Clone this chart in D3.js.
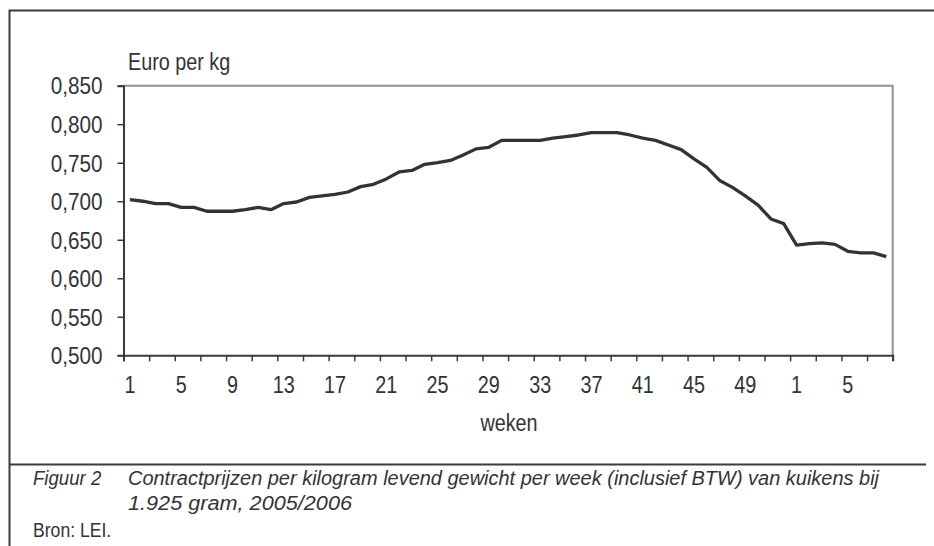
<!DOCTYPE html>
<html>
<head>
<meta charset="utf-8">
<script src="https://cdn.jsdelivr.net/npm/d3@7"></script>
<style>
  html, body { margin: 0; padding: 0; background: #fff; }
  svg text { font-family: "Liberation Sans", Arial, sans-serif; fill: #333; }
</style>
</head>
<body>
<svg id="chart" width="934" height="546"></svg>
<script>
// weken: 2005 week 1 t/m 52, daarna 2006 week 1 t/m 8
const weekLabels = [
  1, 2, 3, 4, 5, 6, 7, 8, 9, 10, 11, 12, 13, 14, 15, 16, 17, 18, 19, 20,
  21, 22, 23, 24, 25, 26, 27, 28, 29, 30, 31, 32, 33, 34, 35, 36, 37, 38, 39, 40,
  41, 42, 43, 44, 45, 46, 47, 48, 49, 50, 51, 52, 1, 2, 3, 4, 5, 6, 7, 8
];

// contractprijs in euro per kg levend gewicht
const prices = [
  0.702, 0.700, 0.697, 0.697, 0.692, 0.692, 0.687, 0.687, 0.687, 0.689,
  0.692, 0.689, 0.697, 0.699, 0.705, 0.707, 0.709, 0.712, 0.719, 0.722,
  0.729, 0.738, 0.740, 0.748, 0.750, 0.753, 0.760, 0.768, 0.770, 0.779,
  0.779, 0.779, 0.779, 0.782, 0.784, 0.786, 0.789, 0.789, 0.789, 0.786,
  0.782, 0.779, 0.773, 0.767, 0.755, 0.744, 0.727, 0.718, 0.707, 0.695,
  0.677, 0.671, 0.643, 0.645, 0.646, 0.644, 0.635, 0.633, 0.633, 0.628
];

const yTicks = [0.50, 0.55, 0.60, 0.65, 0.70, 0.75, 0.80, 0.85];

const svg = d3.select("#chart");

const plot = { left: 123.5, top: 85.7, right: 892.7, bottom: 355.3 };

// het origineel gebruikt een smalle letter: tekst horizontaal inkrimpen
function condense(sel, factor) {
  sel.each(function () {
    const w = this.getComputedTextLength();
    d3.select(this)
      .attr("textLength", w * factor)
      .attr("lengthAdjust", "spacingAndGlyphs");
  });
}

// decimale komma
const nl = d3.formatLocale({ decimal: ",", thousands: ".", grouping: [3], currency: ["€", ""] });
const fmt = nl.format(".3f");

const idx = d3.range(prices.length);

const x = d3.scaleBand()
  .domain(idx)
  .range([plot.left, plot.right])
  .padding(0);

// lineaire schaal voor de streepjes op de categoriegrenzen
const xEdge = d3.scaleLinear()
  .domain([0, prices.length])
  .range([plot.left, plot.right]);

const y = d3.scaleLinear()
  .domain([0.5, 0.85])
  .range([plot.bottom, plot.top]);

// buitenkader
svg.append("path")
  .attr("d", "M9.5,546 V10.5 H934")
  .attr("fill", "none")
  .attr("stroke", "#3c3c3c")
  .attr("stroke-width", 2);

// plotkader (boven en rechts)
svg.append("path")
  .attr("d", `M${plot.left},${plot.top} H${plot.right} V${plot.bottom}`)
  .attr("fill", "none")
  .attr("stroke", "#988e8a")
  .attr("stroke-width", 2);

// y-as
const yAxis = svg.append("g")
  .attr("transform", `translate(${plot.left},0)`)
  .call(d3.axisLeft(y).tickValues(yTicks).tickFormat(fmt).tickSize(6).tickPadding(15));

yAxis.selectAll("text")
  .style("font-size", "23px")
  .attr("dy", "0.36em")
  .call(condense, 0.9);

// x-as: streepjes om de 2 weken
const xTickAxis = svg.append("g")
  .attr("transform", `translate(0,${plot.bottom})`)
  .call(d3.axisBottom(xEdge).tickValues(d3.range(0, prices.length + 1, 2)).tickFormat("").tickSize(6));

// x-as: labels om de 4 weken, midden in de categorie
const xLabelAxis = svg.append("g")
  .attr("transform", `translate(0,${plot.bottom})`)
  .call(d3.axisBottom(x)
    .tickValues(idx.filter(i => i % 4 === 0))
    .tickFormat(i => weekLabels[i])
    .tickSize(0)
    .tickPadding(21.5));

xLabelAxis.selectAll("text")
  .style("font-size", "23px")
  .call(condense, 0.86);
xLabelAxis.select(".domain").remove();

[yAxis, xTickAxis].forEach(g => {
  g.select(".domain").attr("stroke", "#3a3a3a").attr("stroke-width", 2);
  g.selectAll(".tick line").attr("stroke", "#3a3a3a").attr("stroke-width", 1.5);
});

// prijslijn
const line = d3.line()
  .x((d, i) => x(i) + x.bandwidth() / 2)
  .y(d => y(d));

svg.append("path")
  .datum(prices)
  .attr("fill", "none")
  .attr("stroke", "#333336")
  .attr("stroke-width", 3.3)
  .attr("stroke-linejoin", "round")
  .attr("d", line);

// astitels
svg.append("text")
  .attr("x", 128)
  .attr("y", 70)
  .style("font-size", "23px")
  .text("Euro per kg")
  .call(condense, 0.86);

svg.append("text")
  .attr("x", 509)
  .attr("y", 431)
  .attr("text-anchor", "middle")
  .style("font-size", "23px")
  .text("weken")
  .call(condense, 0.86);

// scheidingslijn boven onderschrift
svg.append("line")
  .attr("x1", 9)
  .attr("x2", 926)
  .attr("y1", 464.5)
  .attr("y2", 464.5)
  .attr("stroke", "#3c3c3c")
  .attr("stroke-width", 2);

// onderschrift
const caption = svg.append("g").style("font-size", "20px");

caption.append("text")
  .attr("x", 33).attr("y", 485)
  .style("font-style", "italic")
  .text("Figuur 2")
  .call(condense, 0.93);

caption.append("text")
  .attr("x", 128).attr("y", 485)
  .style("font-style", "italic")
  .attr("textLength", 751)
  .attr("lengthAdjust", "spacingAndGlyphs")
  .text("Contractprijzen per kilogram levend gewicht per week (inclusief BTW) van kuikens bij");

caption.append("text")
  .attr("x", 128).attr("y", 510)
  .style("font-style", "italic")
  .attr("textLength", 224)
  .attr("lengthAdjust", "spacingAndGlyphs")
  .text("1.925 gram, 2005/2006");

caption.append("text")
  .attr("x", 33).attr("y", 537)
  .text("Bron: LEI.")
  .call(condense, 0.88);
</script>
</body>
</html>
